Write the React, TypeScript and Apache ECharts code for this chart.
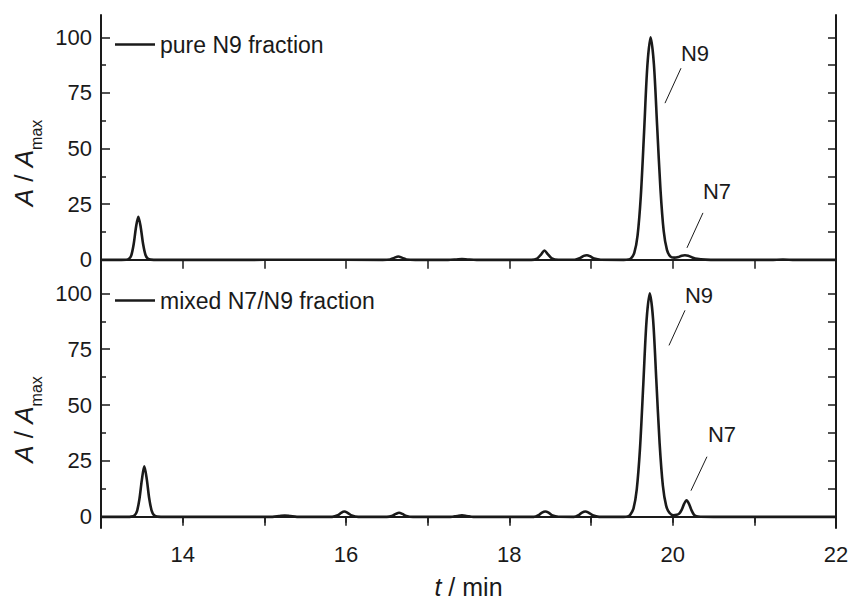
import React, { useEffect, useRef } from "react";
import * as echarts from "echarts";

// ---- data ----
const pureN9: [number, number][] = [
  [13.0, 0], [13.25, 0], [13.31, 0.05], [13.34, 0.35], [13.37, 1.9], [13.4, 7.0], [13.43, 15.0],
  [13.457, 19.4], [13.485, 15.0], [13.515, 7.2], [13.545, 2.2], [13.575, 0.5], [13.61, 0.1], [13.7, 0],
  [14.5, 0], [15.5, 0.05], [16.45, 0], [16.54, 0.2], [16.59, 0.9], [16.64, 1.5], [16.69, 0.9],
  [16.74, 0.2], [16.85, 0], [17.25, 0], [17.35, 0.2], [17.42, 0.4], [17.49, 0.2], [17.6, 0],
  [18.27, 0], [18.34, 0.6], [18.39, 2.5], [18.43, 4.2], [18.47, 2.6], [18.52, 0.7], [18.6, 0.05],
  [18.8, 0.05], [18.86, 0.7], [18.91, 1.8], [18.95, 2.1], [18.99, 1.6], [19.04, 0.6], [19.12, 0.05],
  [19.4, 0], [19.46, 0.2], [19.49, 0.7], [19.53, 3.1], [19.57, 10.9], [19.61, 28.7], [19.65, 57.4],
  [19.69, 87.1], [19.73, 100], [19.77, 88], [19.81, 60], [19.85, 32], [19.89, 13], [19.93, 4.5],
  [19.97, 1.6], [20.02, 1.0], [20.07, 1.3], [20.11, 1.9], [20.15, 2.1], [20.19, 1.9], [20.24, 1.1],
  [20.3, 0.45], [20.4, 0.1], [20.55, 0], [21.2, 0], [21.35, 0.15], [21.5, 0], [22, 0],
];

const mixedN7N9: [number, number][] = [
  [13.0, 0], [13.32, 0], [13.37, 0.1], [13.41, 0.6], [13.44, 2.4], [13.47, 7.8], [13.5, 16.4],
  [13.53, 22.6], [13.56, 17.0], [13.59, 8.3], [13.62, 2.8], [13.65, 0.7], [13.69, 0.1], [13.8, 0],
  [15.1, 0], [15.18, 0.3], [15.25, 0.6], [15.32, 0.3], [15.4, 0],
  [15.83, 0], [15.9, 0.7], [15.94, 1.8], [15.98, 2.4], [16.02, 1.8], [16.07, 0.6], [16.15, 0],
  [16.5, 0], [16.57, 0.5], [16.61, 1.3], [16.65, 1.8], [16.69, 1.3], [16.74, 0.4], [16.82, 0],
  [17.28, 0], [17.36, 0.4], [17.42, 0.7], [17.48, 0.4], [17.56, 0],
  [18.3, 0], [18.36, 0.8], [18.4, 1.9], [18.44, 2.4], [18.48, 1.9], [18.53, 0.6], [18.6, 0.05],
  [18.79, 0], [18.85, 0.8], [18.89, 1.9], [18.93, 2.4], [18.97, 1.9], [19.02, 0.7], [19.1, 0],
  [19.4, 0], [19.46, 0.3], [19.48, 0.9], [19.52, 3.7], [19.56, 12.2], [19.6, 30.6], [19.64, 59],
  [19.68, 87.7], [19.72, 100], [19.76, 88.5], [19.8, 61], [19.84, 33], [19.88, 14], [19.92, 5],
  [19.96, 1.8], [20.01, 0.7], [20.05, 0.9], [20.08, 1.4], [20.11, 3.1], [20.14, 5.8], [20.17, 7.4],
  [20.2, 5.8], [20.23, 3.0], [20.26, 1.0], [20.29, 0.3], [20.34, 0.05], [20.5, 0], [22, 0],
];

const seriesNames = ["pure N9 fraction", "mixed N7/N9 fraction"];
const xLabelValues = [14, 16, 18, 20, 22];
const xTickValues = [13, 14, 15, 16, 17, 18, 19, 20, 21, 22];
const yLabelValues = [0, 25, 50, 75, 100];
const yMinorValues = [12.5, 37.5, 62.5, 87.5];
const yAllTicks = [0, 12.5, 25, 37.5, 50, 62.5, 75, 87.5, 100];

// annotation lines [[x1,y1],[x2,y2]] and text anchors [x,y,text]
const topLines: [number, number][][] = [
  [[20.102, 86.1], [19.906, 70.4]],
  [[20.371, 21.1], [20.175, 5.4]],
];
const topLabels: [number, number, string][] = [
  [20.273, 92.6, "N9"],
  [20.543, 30.5, "N7"],
];
const bottomLines: [number, number][][] = [
  [[20.151, 92.4], [19.955, 76.7]],
  [[20.42, 26.9], [20.224, 11.7]],
];
const bottomLabels: [number, number, string][] = [
  [20.322, 99.1, "N9"],
  [20.604, 37.0, "N7"],
];

const FONT = "'Liberation Sans', Arial, Helvetica, sans-serif";
const INK = "#1a1a1a";

function buildMark(lines: [number, number][][], labels: [number, number, string][]) {
  return {
    markLine: {
      silent: true,
      symbol: ["none", "none"],
      label: { show: false },
      lineStyle: { color: INK, width: 1, type: "solid" },
      data: lines.map((l) => [{ coord: l[0] }, { coord: l[1] }]),
    },
    markPoint: {
      silent: true,
      symbol: "circle",
      symbolSize: 1,
      itemStyle: { color: "rgba(0,0,0,0)" },
      label: {
        show: true,
        position: "inside",
        formatter: "{b}",
        fontSize: 22,
        fontFamily: FONT,
        color: INK,
      },
      data: labels.map((l) => ({ name: l[2], coord: [l[0], l[1]] })),
    },
  };
}

export default function App() {
  const ref = useRef<HTMLDivElement>(null);

  useEffect(() => {
    if (!ref.current) return;
    const chart = echarts.init(ref.current, undefined, { renderer: "svg" });

    const yName = "{it|A}{n| / }{it|A}{sub|max}";
    const yNameStyle = {
      fontFamily: FONT,
      color: INK,
      padding: [0, 40, 0, 0],
      rich: {
        it: { fontStyle: "italic", fontSize: 26, fontFamily: FONT, color: INK, lineHeight: 40, verticalAlign: "middle" },
        n: { fontSize: 26, fontFamily: FONT, color: INK, lineHeight: 40, verticalAlign: "middle" },
        sub: { fontSize: 16, fontFamily: FONT, color: INK, lineHeight: 40, verticalAlign: "bottom" },
      },
    };

    const axisLine = { show: true, lineStyle: { color: INK, width: 2 } };

    const mkY = (gridIndex: number) => [
      {
        type: "value",
        gridIndex,
        position: "left",
        min: -5,
        max: 110,
        axisLine,
        splitLine: { show: false },
        axisTick: { show: true, inside: true, length: 9, customValues: yLabelValues, lineStyle: { color: INK, width: 1.5 } },
        axisLabel: { show: true, customValues: yLabelValues, fontSize: 22, fontFamily: FONT, color: INK, margin: 9 },
        name: yName,
        nameLocation: "middle",
        nameRotate: 90,
        nameGap: 50,
        nameTextStyle: yNameStyle,
      },
      {
        type: "value",
        gridIndex,
        position: "left",
        min: -5,
        max: 110,
        axisLine: { show: false },
        splitLine: { show: false },
        axisTick: { show: true, inside: true, length: 5, customValues: yMinorValues, lineStyle: { color: INK, width: 1.5 } },
        axisLabel: { show: false },
      },
      {
        type: "value",
        gridIndex,
        position: "right",
        min: -5,
        max: 110,
        axisLine,
        splitLine: { show: false },
        axisTick: { show: true, inside: true, length: 8, customValues: yAllTicks, lineStyle: { color: INK, width: 1.5 } },
        axisLabel: { show: false },
      },
    ];

    const legendBase = {
      left: 115,
      padding: 0,
      icon: "rect",
      itemWidth: 40,
      itemHeight: 2.5,
      itemGap: 0,
      textStyle: { fontSize: 23, fontFamily: FONT, color: INK, padding: [0, 0, 0, 0] },
    };

    const option: any = {
      animation: false,
      backgroundColor: "#ffffff",
      grid: [
        { left: 101, top: 15, width: 735, height: 256 },
        { left: 101, top: 271, width: 735, height: 257 },
      ],
      legend: [
        { ...legendBase, data: [seriesNames[0]], top: 33 },
        { ...legendBase, data: [seriesNames[1]], top: 289 },
      ],
      xAxis: [
        {
          type: "value", gridIndex: 0, position: "bottom", min: 13, max: 22, interval: 1,
          axisLine, splitLine: { show: false }, axisTick: { show: false }, axisLabel: { show: false },
        },
        {
          type: "value", gridIndex: 0, position: "top", min: 13, max: 22, interval: 1,
          axisLine, splitLine: { show: false },
          axisTick: { show: true, inside: true, length: 9, customValues: xTickValues, lineStyle: { color: INK, width: 1.5 } },
          axisLabel: { show: false },
        },
        {
          type: "value", gridIndex: 1, position: "bottom", min: 13, max: 22, interval: 1,
          axisLine, splitLine: { show: false },
          axisTick: { show: true, inside: false, length: 6, customValues: xTickValues, lineStyle: { color: INK, width: 1.5 } },
          axisLabel: { show: true, customValues: xLabelValues, fontSize: 22, fontFamily: FONT, color: INK, margin: 15 },
          name: "{it|t} / min",
          nameLocation: "middle",
          nameGap: 46,
          nameTextStyle: {
            fontSize: 25, fontFamily: FONT, color: INK,
            rich: { it: { fontStyle: "italic", fontSize: 25, fontFamily: FONT, color: INK } },
          },
        },
        {
          type: "value", gridIndex: 1, position: "top", min: 13, max: 22, interval: 1,
          axisLine, splitLine: { show: false },
          axisTick: { show: true, inside: true, length: 9, customValues: xTickValues, lineStyle: { color: INK, width: 1.5 } },
          axisLabel: { show: false },
        },
      ],
      yAxis: [...mkY(0), ...mkY(1)],
      series: [
        {
          name: seriesNames[0],
          type: "line",
          xAxisIndex: 0,
          yAxisIndex: 0,
          data: pureN9,
          symbol: "none",
          smooth: 0.3,
          lineStyle: { color: INK, width: 2.6 },
          itemStyle: { color: INK },
          ...buildMark(topLines, topLabels),
        },
        {
          name: seriesNames[1],
          type: "line",
          xAxisIndex: 2,
          yAxisIndex: 3,
          data: mixedN7N9,
          symbol: "none",
          smooth: 0.3,
          lineStyle: { color: INK, width: 2.6 },
          itemStyle: { color: INK },
          ...buildMark(bottomLines, bottomLabels),
        },
      ],
    };

    chart.setOption(option);
    return () => chart.dispose();
  }, []);

  return (
    <div
      ref={ref}
      style={{ position: "fixed", left: 0, top: 0, width: 852, height: 601, background: "#fff" }}
    />
  );
}
